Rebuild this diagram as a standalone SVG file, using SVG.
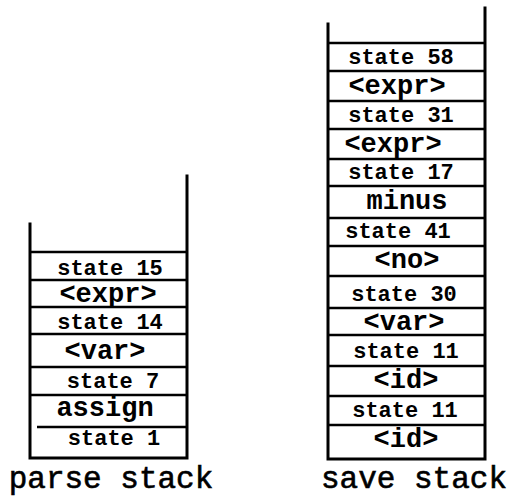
<svg xmlns="http://www.w3.org/2000/svg" width="510" height="497" viewBox="0 0 510 497">
  <style>
    .wall { stroke: #000; stroke-width: 3; fill: none; stroke-linecap: square; }
    .sep { stroke: #000; stroke-width: 2.6; fill: none; }
    .st { font-family: "Liberation Mono", "DejaVu Sans Mono", monospace; font-weight: bold; font-size: 22px; text-anchor: middle; fill: #000; }
    .sym { font-family: "Liberation Mono", "DejaVu Sans Mono", monospace; font-weight: bold; font-size: 27px; text-anchor: middle; fill: #000; }
    .cap { font-family: "Liberation Mono", "DejaVu Sans Mono", monospace; font-size: 31px; text-anchor: middle; fill: #000; stroke: #000; stroke-width: 0.6; }
  </style>
  <rect width="510" height="497" fill="#fff"/>

  <!-- parse stack -->
  <g id="parse-stack">
    <path class="wall" d="M30 224 V458 H187 V176"/>
    <g class="sep">
      <line x1="30" y1="252" x2="187" y2="252"/>
      <line x1="30" y1="280" x2="187" y2="280"/>
      <line x1="30" y1="307" x2="187" y2="307"/>
      <line x1="30" y1="334" x2="187" y2="334"/>
      <line x1="30" y1="367" x2="187" y2="367"/>
      <line x1="30" y1="395" x2="187" y2="395"/>
      <line x1="37" y1="427" x2="187" y2="427"/>
    </g>
    <text class="st" x="110" y="275">state 15</text>
    <text class="sym" x="108" y="302">&lt;expr&gt;</text>
    <text class="st" x="110" y="329">state 14</text>
    <text class="sym" x="105" y="359">&lt;var&gt;</text>
    <text class="st" x="113" y="388">state 7</text>
    <text class="sym" x="105" y="416">assign</text>
    <text class="st" x="114" y="445">state 1</text>
    <text class="cap" x="111" y="488">parse stack</text>
  </g>

  <!-- save stack -->
  <g id="save-stack">
    <path class="wall" d="M328 24 V459 H485 V8"/>
    <g class="sep">
      <line x1="328" y1="43" x2="485" y2="43"/>
      <line x1="328" y1="71" x2="485" y2="71"/>
      <line x1="328" y1="101" x2="485" y2="101"/>
      <line x1="328" y1="129" x2="485" y2="129"/>
      <line x1="328" y1="159" x2="485" y2="159"/>
      <line x1="328" y1="186" x2="485" y2="186"/>
      <line x1="328" y1="218" x2="485" y2="218"/>
      <line x1="328" y1="246" x2="485" y2="246"/>
      <line x1="328" y1="276" x2="485" y2="276"/>
      <line x1="328" y1="308" x2="485" y2="308"/>
      <line x1="328" y1="335" x2="485" y2="335"/>
      <line x1="328" y1="366" x2="485" y2="366"/>
      <line x1="328" y1="396" x2="485" y2="396"/>
      <line x1="328" y1="425" x2="485" y2="425"/>
    </g>
    <text class="st" x="401" y="64">state 58</text>
    <text class="sym" x="397" y="94">&lt;expr&gt;</text>
    <text class="st" x="401" y="122">state 31</text>
    <text class="sym" x="393" y="152">&lt;expr&gt;</text>
    <text class="st" x="401" y="179">state 17</text>
    <text class="sym" x="407" y="209">minus</text>
    <text class="st" x="398" y="238">state 41</text>
    <text class="sym" x="407" y="268">&lt;no&gt;</text>
    <text class="st" x="404" y="301">state 30</text>
    <text class="sym" x="404" y="330">&lt;var&gt;</text>
    <text class="st" x="406" y="358">state 11</text>
    <text class="sym" x="406" y="388">&lt;id&gt;</text>
    <text class="st" x="405" y="417">state 11</text>
    <text class="sym" x="406" y="447">&lt;id&gt;</text>
    <text class="cap" x="414" y="488">save stack</text>
  </g>
</svg>
